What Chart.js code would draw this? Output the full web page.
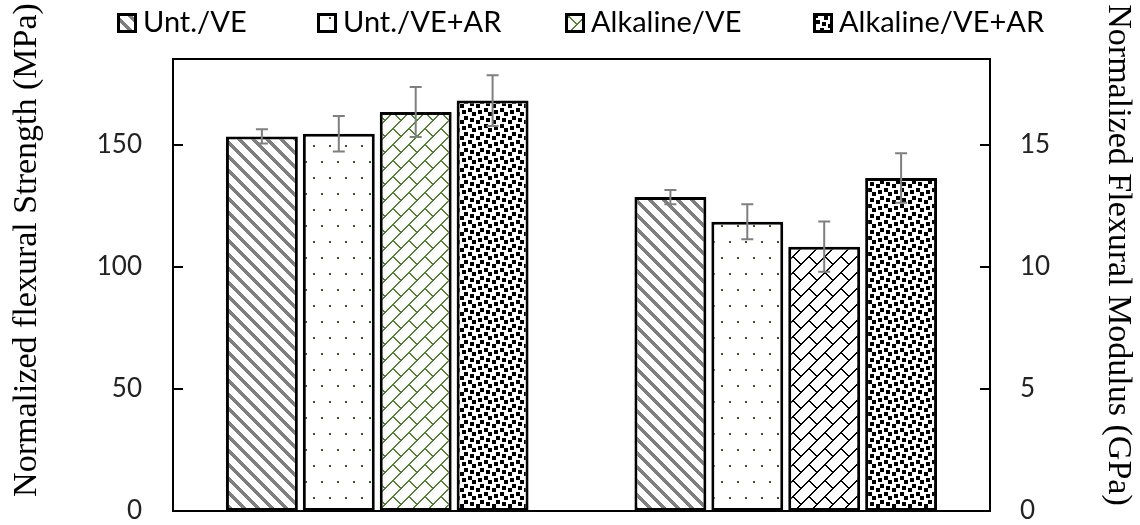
<!DOCTYPE html>
<html>
<head>
<meta charset="utf-8">
<script src="https://cdn.jsdelivr.net/npm/chart.js@4.4.1/dist/chart.umd.min.js"></script>
<style>
  html, body { margin: 0; padding: 0; background: #fff; }
  #wrap { width: 1140px; height: 525px; }
</style>
</head>
<body>
<div id="wrap"><canvas id="flex-chart" width="1140" height="525"></canvas></div>
<script>
const categories = ['Flexural strength', 'Flexural modulus'];
const seriesNames = ['Unt./VE', 'Unt./VE+AR', 'Alkaline/VE', 'Alkaline/VE+AR'];
// strength in MPa, left axis
const strength = [153.3, 154.4, 163.3, 168.0];
const strengthErr = [2.9, 7.3, 10.2, 10.4];
// modulus in GPa, right axis
const modulus = [12.85, 11.84, 10.82, 13.63];
const modulusErr = [0.29, 0.72, 1.03, 1.01];
const strengthTicks = [0, 50, 100, 150];
const modulusTicks = [0, 5, 10, 15];

const canvas = document.getElementById('flex-chart');
const ctx = canvas.getContext('2d');

// pixel tile -> repeating pattern
function makePattern(w, h, paint) {
    const c = document.createElement('canvas');
    c.width = w; c.height = h;
    const g = c.getContext('2d');
    g.fillStyle = '#fff';
    g.fillRect(0, 0, w, h);
    paint(g, w, h);
    return ctx.createPattern(c, 'repeat');
}
const mod = (a, n) => ((a % n) + n) % n;

function stripes(color) {
    return makePattern(14, 14, (g, n) => {
        g.fillStyle = color;
        for (let y = 0; y < n; y++)
            for (let x = 0; x < n; x++)
                if (mod(x - y, n) < 5) g.fillRect(x, y, 1, 1);
    });
}
function dots(color) {
    return makePattern(16, 32, (g) => {
        g.fillStyle = color;
        g.fillRect(1, 1, 2, 2);
        g.fillRect(9, 17, 2, 2);
    });
}
function brick(color) {
    return makePattern(16, 16, (g, n) => {
        g.fillStyle = color;
        for (let y = 0; y < n; y++)
            for (let x = 0; x < n; x++) {
                const s = mod(x + y, n);
                if (s === 8 || s === 9) g.fillRect(x, y, 1, 1);
            }
        for (let y = 0; y < 8; y++) {
            g.fillRect(mod(8 + y, n), y, 1, 1);
            g.fillRect(mod(9 + y, n), y, 1, 1);
        }
    });
}
function confetti(color) {
    // 4px blocks scattered over a 16px tile
    const spots = [[8, 0], [0, 4], [6, 6], [12, 8], [4, 12], [14, 14]];
    return makePattern(16, 16, (g, n) => {
        g.fillStyle = color;
        spots.forEach(([x, y]) => {
            for (let dy = 0; dy < 4; dy++)
                for (let dx = 0; dx < 4; dx++)
                    g.fillRect(mod(x + dx, n), mod(y + dy, n), 1, 1);
        });
    });
}

const fillsLeft = [stripes('#7f7f7f'), dots('#385723'), brick('#548235'), confetti('#000')];
const fillsRight = [stripes('#7f7f7f'), dots('#385723'), brick('#000'), confetti('#000')];

const datasets = [];
seriesNames.forEach((name, i) => {
    datasets.push({ label: name, data: [strength[i], null], err: [strengthErr[i], null],
        yAxisID: 'y', backgroundColor: fillsLeft[i] });
});
seriesNames.forEach((name, i) => {
    datasets.push({ label: name, data: [null, modulus[i]], err: [null, modulusErr[i]],
        yAxisID: 'y2', backgroundColor: fillsRight[i] });
});

const tickFont = { family: 'Lato', size: 26, lineHeight: 1 };

// plot frame + inside tick marks
const frame = {
    id: 'frame',
    beforeDatasetsDraw(chart) {
        const { ctx, chartArea: a, scales } = chart;
        ctx.save();
        ctx.strokeStyle = '#000';
        ctx.lineWidth = 2;
        ctx.strokeRect(a.left, a.top, a.right - a.left, a.bottom - a.top);
        ctx.beginPath();
        scales.y.ticks.forEach(t => {
            const py = Math.round(scales.y.getPixelForValue(t.value));
            ctx.moveTo(a.left, py); ctx.lineTo(a.left + 10, py);
        });
        scales.y2.ticks.forEach(t => {
            const py = Math.round(scales.y2.getPixelForValue(t.value));
            ctx.moveTo(a.right, py); ctx.lineTo(a.right - 10, py);
        });
        ctx.stroke();
        ctx.restore();
    }
};

const errorBars = {
    id: 'errorBars',
    afterDatasetsDraw(chart) {
        const { ctx } = chart;
        ctx.save();
        ctx.strokeStyle = '#7f7f7f';
        ctx.lineWidth = 2;
        chart.data.datasets.forEach((ds, di) => {
            const meta = chart.getDatasetMeta(di);
            const scale = chart.scales[ds.yAxisID];
            meta.data.forEach((bar, i) => {
                const v = ds.data[i];
                if (v == null || !isFinite(bar.x)) return;
                const e = ds.err[i];
                const yHi = scale.getPixelForValue(v + e);
                const yLo = scale.getPixelForValue(v - e);
                ctx.beginPath();
                ctx.moveTo(bar.x, yHi); ctx.lineTo(bar.x, yLo);
                ctx.moveTo(bar.x - 6, yHi); ctx.lineTo(bar.x + 6, yHi);
                ctx.moveTo(bar.x - 6, yLo); ctx.lineTo(bar.x + 6, yLo);
                ctx.stroke();
            });
        });
        ctx.restore();
    }
};

// legend row and the two axis titles
const legendX = [117, 317, 565, 813];
const annotations = {
    id: 'annotations',
    afterDraw(chart) {
        const { ctx } = chart;
        ctx.save();
        ctx.textBaseline = 'middle';
        ctx.font = '29px Lato';
        seriesNames.forEach((name, i) => {
            const x = legendX[i];
            ctx.fillStyle = fillsLeft[i];
            ctx.fillRect(x, 13, 20, 20);
            ctx.strokeStyle = '#000';
            ctx.lineWidth = 3;
            ctx.strokeRect(x + 1.5, 14.5, 17, 17);
            ctx.fillStyle = '#000';
            ctx.textAlign = 'left';
            ctx.fillText(name, x + 26, 23);
        });

        ctx.font = '34px "Liberation Serif"';
        ctx.textAlign = 'center';
        ctx.fillStyle = '#000';
        ctx.save();
        ctx.translate(27, 250);
        ctx.rotate(-Math.PI / 2);
        ctx.fillText('Normalized flexural Strength (MPa)', 0, 0);
        ctx.restore();
        ctx.save();
        ctx.translate(1118, 255);
        ctx.rotate(Math.PI / 2);
        ctx.fillText('Normalized Flexural Modulus (GPa)', 0, 0);
        ctx.restore();
        ctx.restore();
    }
};

new Chart(ctx, {
    type: 'bar',
    data: { labels: categories, datasets: datasets },
    options: {
        responsive: false,
        animation: false,
        devicePixelRatio: 1,
        layout: { padding: { top: 59, left: 0, right: 0, bottom: 0 } },
        datasets: {
            bar: {
                skipNull: true,
                categoryPercentage: 0.753,
                barPercentage: 0.935,
                borderColor: '#000',
                borderWidth: 3,
                borderSkipped: false
            }
        },
        plugins: { legend: { display: false }, tooltip: { enabled: false } },
        scales: {
            x: {
                grid: { display: false },
                border: { display: false },
                ticks: { display: false },
                afterFit: s => { s.height = 14; }
            },
            y: {
                position: 'left',
                min: 0,
                max: 185,
                afterBuildTicks: s => { s.ticks = strengthTicks.map(v => ({ value: v })); },
                grid: { display: false, drawTicks: true, tickLength: 31 },
                border: { display: false },
                ticks: { padding: 0, font: tickFont, color: '#222' },
                afterFit: s => { s.width = 173; }
            },
            y2: {
                position: 'right',
                min: 0,
                max: 18.5,
                afterBuildTicks: s => { s.ticks = modulusTicks.map(v => ({ value: v })); },
                grid: { display: false, drawTicks: true, tickLength: 30 },
                border: { display: false },
                ticks: { padding: 0, font: tickFont, color: '#222' },
                afterFit: s => { s.width = 150; }
            }
        }
    },
    plugins: [frame, errorBars, annotations]
});
</script>
</body>
</html>
